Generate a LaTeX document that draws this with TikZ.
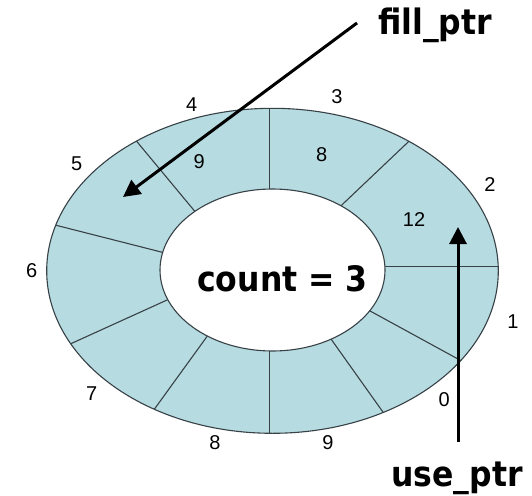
\documentclass[tikz,border=0pt]{standalone}
\usepackage{fontspec}
\setmainfont{Liberation Sans}
\newfontfamily\ptrfont[FakeStretch=0.9]{DejaVu Sans}
\usetikzlibrary{arrows.meta}
\definecolor{ringfill}{RGB}{182,220,226}
\definecolor{ringline}{RGB}{55,65,70}
\begin{document}
\begin{tikzpicture}[x=1pt,y=-1pt,
  num/.style={font=\fontsize{20}{22}\selectfont, inner sep=0pt, text=black},
  big/.style={font=\ptrfont\bfseries\fontsize{35}{38}\selectfont, inner sep=0pt},
  divider/.style={draw=ringline, line width=1.1pt, shorten <=-6pt, shorten >=-6pt},
  pointer/.style={line width=3pt, -{Triangle[length=17pt,width=17pt]}},
  ring/.style={draw=ringline, line width=1.1pt}
]
\useasboundingbox (0,0) rectangle (532,495);
\fill[white] (0,0) rectangle (532,495);
% ring
\fill[ringfill] (272.5,270.8) ellipse [x radius=225.8, y radius=162.5];
\begin{scope}
  \clip (272.5,270.8) ellipse [x radius=225.8, y radius=162.5];
  \foreach \xa/\ya/\xb/\yb in {
      269.3/108/269.3/189,
      138.3/143.3/192.3/208.3,
      55/225/160/251.7,
      71.7/343.3/163.3/301.7,
      155/408.3/205.7/338.3,
      269.3/353.3/269.3/433.3,
      331.7/340/382.7/411.7,
      368.3/310/456.7/358.3,
      385/266.7/498.3/266.7,
      340/206.7/405/145}
    \draw[divider] (\xa,\ya) -- (\xb,\yb);
\end{scope}
\draw[ring] (272.5,270.8) ellipse [x radius=225.8, y radius=162.5];
\filldraw[ring, fill=white] (272.5,270) ellipse [x radius=112.5, y radius=81];
% index labels
\node[num] (i0) at (444.3,399.3) {0};
\node[num] (i1) at (513,322) {1};
\node[num] (i2) at (490,185) {2};
\node[num] (i3) at (337,97) {3};
\node[num] (i4) at (191.7,104.5) {4};
\node[num] (i5) at (76.7,163.3) {5};
\node[num] (i6) at (31.7,271) {6};
\node[num] (i7) at (91.7,393.3) {7};
\node[num] (i8) at (215,443) {8};
\node[num] (i9) at (328,443) {9};
% cell values
\node[num] (v2) at (414,219.3) {12};
\node[num] (v3) at (321.7,155) {8};
\node[num] (v4) at (199.3,161.7) {9};
% big labels
\node[big, anchor=base] (count) at (282.5,291) {count = 3};
\node[big, anchor=base west] (fillptr) at (378,35) {fill\_ptr};
\node[big, anchor=base west] (useptr) at (391,486) {use\_ptr};
% pointers
\coordinate (fillstart) at (357,23);
\coordinate (filltip) at (123,197);
\coordinate (usestart) at (458,442);
\coordinate (usetip) at (458,227);
\draw[pointer] (fillstart) -- (filltip);
\draw[pointer] (usestart) -- (usetip);
\end{tikzpicture}
\end{document}
